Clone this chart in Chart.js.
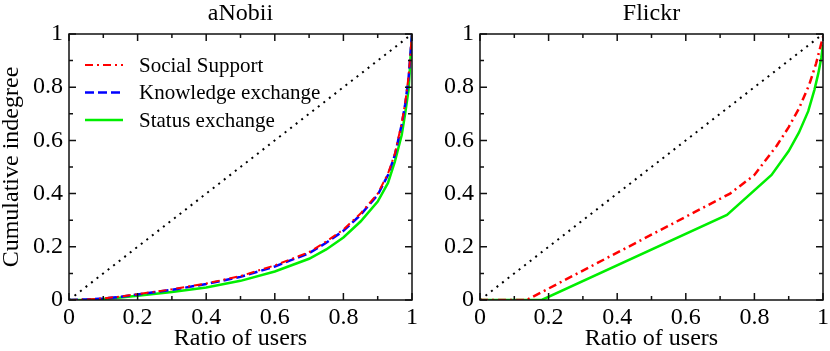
<!DOCTYPE html>
<html>
<head>
<meta charset="utf-8">
<script src="https://cdn.jsdelivr.net/npm/chart.js@4.4.0/dist/chart.umd.min.js"></script>
<style>
  body { margin: 0; background: #fff; }
  .box { position: absolute; top: 0; height: 351px; }
</style>
</head>
<body>
<div class="box" style="left:0;width:430px"><canvas id="anobii" width="430" height="351"></canvas></div>
<div class="box" style="left:415px;width:415px"><canvas id="flickr" width="415" height="351"></canvas></div>
<script>
// aNobii: ratio of users vs cumulative indegree
const ratioA = [0, 0.05, 0.1, 0.15, 0.2, 0.3, 0.4, 0.5, 0.6, 0.7, 0.75, 0.8, 0.85, 0.9, 0.93, 0.95, 0.97, 0.98, 0.99, 1];
const socialA = [0, 0.002, 0.006, 0.013, 0.022, 0.04, 0.062, 0.09, 0.13, 0.18, 0.22, 0.265, 0.325, 0.40, 0.475, 0.55, 0.665, 0.74, 0.84, 1];
const knowledgeA = [0, 0.002, 0.006, 0.012, 0.021, 0.038, 0.06, 0.087, 0.126, 0.176, 0.215, 0.26, 0.32, 0.395, 0.47, 0.545, 0.66, 0.735, 0.835, 1];
const statusA = [0, 0.001, 0.004, 0.009, 0.016, 0.03, 0.047, 0.072, 0.107, 0.155, 0.19, 0.235, 0.295, 0.37, 0.44, 0.52, 0.62, 0.70, 0.79, 1];

// Flickr
const socialFX = [0, 0.136, 0.729, 0.8, 0.865, 0.9, 0.93, 0.96, 0.98, 1];
const socialFY = [0, 0, 0.40, 0.47, 0.58, 0.65, 0.72, 0.81, 0.89, 0.99];
const statusFX = [0, 0.18, 0.72, 0.85, 0.9, 0.93, 0.957, 0.975, 0.986, 0.995, 1];
const statusFY = [0, 0, 0.32, 0.47, 0.56, 0.63, 0.71, 0.79, 0.85, 0.91, 0.96];

const diagX = [0, 1];
const diagY = [0, 1];

const FONT = 'Liberation Serif, Times New Roman, serif';
const pts = (xs, ys) => xs.map((x, i) => ({ x: x, y: ys[i] }));
const fmt = v => String(+v.toFixed(1));

// frame and inward ticks on all four sides
const frameTicks = {
  id: 'frameTicks',
  afterDraw(chart) {
    const ctx = chart.ctx, a = chart.chartArea;
    const x = chart.scales.x, y = chart.scales.y;
    ctx.save();
    ctx.strokeStyle = '#111';
    ctx.lineWidth = 1.5;
    ctx.strokeRect(a.left, a.top, a.right - a.left, a.bottom - a.top);
    ctx.beginPath();
    for (let i = 0; i <= 10; i++) {
      const v = i / 10;
      const len = i % 2 === 0 ? 7 : 4;
      const px = x.getPixelForValue(v), py = y.getPixelForValue(v);
      ctx.moveTo(px, a.bottom); ctx.lineTo(px, a.bottom - len);
      ctx.moveTo(px, a.top); ctx.lineTo(px, a.top + len);
      ctx.moveTo(a.left, py); ctx.lineTo(a.left + len, py);
      ctx.moveTo(a.right, py); ctx.lineTo(a.right - len, py);
    }
    ctx.stroke();
    ctx.restore();
  }
};

// legend inside the plot
const innerLegend = {
  id: 'innerLegend',
  afterDraw(chart, args, opts) {
    if (!opts.show) return;
    const ctx = chart.ctx;
    const sets = chart.data.datasets.filter(d => d.label);
    ctx.save();
    ctx.font = '21px ' + FONT;
    ctx.textBaseline = 'middle';
    ctx.fillStyle = '#000';
    sets.forEach((d, i) => {
      const yy = 65 + i * 27.5;
      ctx.strokeStyle = d.borderColor;
      ctx.lineWidth = d.borderWidth;
      ctx.setLineDash(d.borderDash || []);
      ctx.beginPath();
      ctx.moveTo(85, yy); ctx.lineTo(123, yy);
      ctx.stroke();
      ctx.setLineDash([]);
      ctx.fillText(d.label, 139, yy + 1);
    });
    ctx.restore();
  }
};

function makeChart(id, title, datasets, yWidth, padRight, yTitle, legend) {
  return new Chart(document.getElementById(id), {
    type: 'line',
    data: { datasets: datasets },
    options: {
      responsive: false,
      animation: false,
      layout: { padding: { left: 0, right: padRight, top: 0, bottom: 0 } },
      elements: { point: { radius: 0 }, line: { fill: false } },
      plugins: {
        legend: { display: false },
        tooltip: { enabled: false },
        title: {
          display: true,
          fullSize: false,
          text: title,
          color: '#000',
          font: { family: FONT, size: 24, weight: 'normal', lineHeight: 1 },
          padding: { top: 2, bottom: 8 }
        },
        innerLegend: { show: legend }
      },
      scales: {
        x: {
          type: 'linear',
          min: 0, max: 1,
          grid: { display: false, drawTicks: false },
          border: { display: false },
          ticks: { stepSize: 0.2, padding: 3, color: '#000', font: { family: FONT, size: 24 }, maxRotation: 0, callback: fmt },
          title: {
            display: true, text: 'Ratio of users', color: '#000',
            font: { family: FONT, size: 24, lineHeight: 1 }, padding: { top: -4, bottom: 0 }
          },
          afterFit(s) { s.height = 51; s.paddingLeft = 0; s.paddingRight = 0; }
        },
        y: {
          type: 'linear',
          min: 0, max: 1,
          grid: { display: false, drawTicks: false },
          border: { display: false },
          ticks: { stepSize: 0.2, padding: 6, color: '#000', font: { family: FONT, size: 24 }, callback: fmt },
          title: {
            display: yTitle, text: 'Cumulative indegree', color: '#000',
            font: { family: FONT, size: 24, lineHeight: 1 }, padding: { top: 0, bottom: 0 }
          },
          afterFit(s) { s.width = yWidth; s.paddingTop = 0; s.paddingBottom = 0; }
        }
      }
    },
    plugins: [frameTicks, innerLegend]
  });
}

const diagSet = () => ({
  data: pts(diagX, diagY), borderColor: '#000', borderWidth: 2,
  borderDash: [2, 5], borderCapStyle: 'butt'
});

makeChart('anobii', 'aNobii', [
  { label: 'Social Support', data: pts(ratioA, socialA), borderColor: '#ff0000', borderWidth: 2, borderDash: [8, 4, 2, 4] },
  { label: 'Knowledge exchange', data: pts(ratioA, knowledgeA), borderColor: '#0000ff', borderWidth: 2.5, borderDash: [9, 4] },
  { label: 'Status exchange', data: pts(ratioA, statusA), borderColor: '#00ee00', borderWidth: 2.5 },
  diagSet()
], 69, 18, true, true);

makeChart('flickr', 'Flickr', [
  { label: 'Social Support', data: pts(socialFX, socialFY), borderColor: '#ff0000', borderWidth: 2.5, borderDash: [8, 4, 2, 4] },
  { label: 'Status exchange', data: pts(statusFX, statusFY), borderColor: '#00ee00', borderWidth: 2.5 },
  diagSet()
], 65, 7, false, false);
</script>
</body>
</html>
